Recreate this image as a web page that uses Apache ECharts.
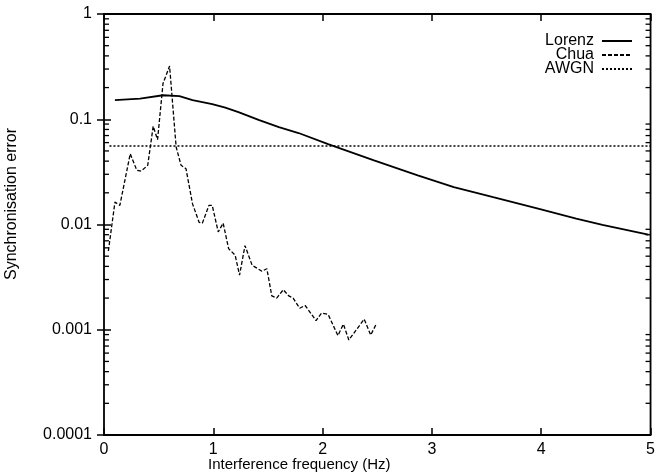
<!DOCTYPE html>
<html>
<head>
<meta charset="utf-8">
<script src="https://cdn.jsdelivr.net/npm/echarts@6/dist/echarts.min.js"></script>
<style>
  html, body { margin: 0; padding: 0; background: #fff; }
  #chart { width: 658px; height: 475px; }
</style>
</head>
<body>
<div id="chart"></div>
<script>
// Lorenz: [frequency Hz, error]
const lorenz = [
  [0.1, 0.152], [0.33, 0.157], [0.54, 0.169], [0.69, 0.166], [0.81, 0.152],
  [0.99, 0.139], [1.11, 0.129], [1.23, 0.117], [1.42, 0.098], [1.6, 0.084],
  [1.78, 0.074], [2.05, 0.058], [2.47, 0.0407], [2.87, 0.0293], [3.2, 0.0227],
  [3.56, 0.0182], [3.98, 0.0141], [4.32, 0.0114], [4.56, 0.0099], [4.98, 0.0080]
];
// Chua
const chua = [
  [0.04, 0.0056], [0.1, 0.0163], [0.145, 0.0152], [0.24, 0.047], [0.30, 0.0327],
  [0.34, 0.0322], [0.40, 0.0365], [0.45, 0.0858], [0.49, 0.064], [0.54, 0.219],
  [0.60, 0.32], [0.66, 0.0545], [0.705, 0.0365], [0.75, 0.0339], [0.81, 0.0157],
  [0.87, 0.0105], [0.90, 0.0103], [0.96, 0.0152], [0.99, 0.0152], [1.045, 0.0085],
  [1.09, 0.0103], [1.14, 0.0059], [1.2, 0.0051], [1.24, 0.0033], [1.29, 0.0063],
  [1.355, 0.0041], [1.445, 0.0036], [1.49, 0.0038], [1.535, 0.0021], [1.58, 0.0020],
  [1.64, 0.0024], [1.69, 0.0021], [1.73, 0.0020], [1.79, 0.0016], [1.84, 0.0017],
  [1.94, 0.00122], [1.99, 0.00144], [2.05, 0.0014], [2.14, 0.00088], [2.19, 0.00113],
  [2.24, 0.0008], [2.38, 0.00126], [2.44, 0.00089], [2.49, 0.00113]
];
// AWGN (flat level)
const awgn = [[0.05, 0.0557], [5, 0.0557]];

const yTicks = [0.0001, 0.001, 0.01, 0.1, 1];
const minorTicks = [
  0.0002, 0.0003, 0.0004, 0.0005, 0.0006, 0.0007, 0.0008, 0.0009,
  0.002, 0.003, 0.004, 0.005, 0.006, 0.007, 0.008, 0.009,
  0.02, 0.03, 0.04, 0.05, 0.06, 0.07, 0.08, 0.09,
  0.2, 0.3, 0.4, 0.5, 0.6, 0.7, 0.8, 0.9
];

const font = 'Liberation Sans, Arial, Helvetica, sans-serif';
const chart = echarts.init(document.getElementById('chart'), null, { renderer: 'canvas' });

// only label the decades
const fmtY = v => {
  const r = +(+v).toPrecision(3);
  return yTicks.some(t => Math.abs(t - r) / t < 1e-6) ? String(r) : '';
};

const tick = { inside: true, length: 7, lineStyle: { color: '#000', width: 1.5 } };

const option = {
  animation: false,
  backgroundColor: '#fff',
  grid: { left: 104, right: 3, top: 14, bottom: 40, show: true, borderColor: '#000', borderWidth: 1.8 },
  legend: {
    orient: 'vertical', right: 20, top: 28, align: 'right',
    itemWidth: 30, itemHeight: 8, itemGap: -2,
    itemStyle: { opacity: 0 },
    textStyle: { fontFamily: font, fontSize: 16, color: '#000', padding: [0, 3, 0, 0] },
    data: ['Lorenz', 'Chua', 'AWGN']
  },
  xAxis: [
    {
      type: 'value', min: 0, max: 5, interval: 1,
      axisLine: { show: false }, axisTick: tick, splitLine: { show: false },
      axisLabel: { fontFamily: font, fontSize: 16, color: '#000', margin: 7 }
    },
    {
      type: 'value', min: 0, max: 5, interval: 1, position: 'top',
      axisLine: { show: false }, axisTick: tick, splitLine: { show: false },
      axisLabel: { show: false }
    }
  ],
  yAxis: [
    {
      type: 'log', logBase: 10, min: 0.0001, max: 1,
      axisLine: { show: false }, axisTick: tick, splitLine: { show: false },
      axisLabel: { fontFamily: font, fontSize: 16, color: '#000', margin: 12, formatter: fmtY }
    },
    {
      type: 'log', logBase: 10, min: 0.0001, max: 1, position: 'right',
      axisLine: { show: false }, axisTick: tick, splitLine: { show: false },
      axisLabel: { show: false }
    }
  ],
  graphic: [
    { type: 'text', left: 208, top: 457,
      style: { text: 'Interference frequency (Hz)', font: '15px ' + font, fill: '#000' } },
    { type: 'text', x: 12, y: 204, rotation: Math.PI / 2,
      style: { text: 'Synchronisation error', font: '16px ' + font, fill: '#000',
               align: 'center', verticalAlign: 'middle' } }
  ],
  series: [
    {
      name: 'Lorenz', type: 'line', data: lorenz, symbol: 'none',
      lineStyle: { color: '#000', width: 1.8, type: 'solid' }, itemStyle: { color: '#000' }
    },
    {
      name: 'Chua', type: 'line', data: chua, symbol: 'none',
      lineStyle: { color: '#000', width: 1.3, type: [4, 2] }, itemStyle: { color: '#000' }
    },
    {
      name: 'AWGN', type: 'line', data: awgn, symbol: 'none',
      lineStyle: { color: '#000', width: 1.3, type: [2, 2] }, itemStyle: { color: '#000' }
    },
    {
      // minor log ticks on left and right frame
      type: 'custom', silent: true, clip: false, z: 5,
      data: minorTicks.map(v => [0, v]),
      renderItem: (params, api) => {
        const p = api.coord([0, api.value(1)]);
        const cs = params.coordSys;
        const st = { stroke: '#000', lineWidth: 1.3 };
        return {
          type: 'group',
          children: [
            { type: 'line', shape: { x1: cs.x, y1: p[1], x2: cs.x + 5, y2: p[1] }, style: st },
            { type: 'line', shape: { x1: cs.x + cs.width - 5, y1: p[1], x2: cs.x + cs.width, y2: p[1] }, style: st }
          ]
        };
      }
    }
  ]
};

chart.setOption(option);
</script>
</body>
</html>
